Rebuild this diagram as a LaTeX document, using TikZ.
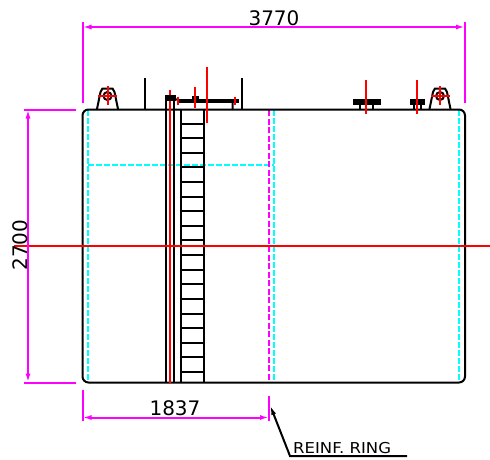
\documentclass[tikz,border=0pt]{standalone}
\usepackage{fontspec}
\setmainfont{DejaVu Sans}
\usetikzlibrary{arrows.meta}
\definecolor{cadred}{RGB}{255,0,0}
\definecolor{cadcyan}{RGB}{0,255,255}
\definecolor{cadmag}{RGB}{255,0,255}
\tikzset{
 x=1pt,y=-1pt,
 tank/.style={draw=black,line width=2pt},
 partline/.style={draw=black,line width=2pt},
 solidpart/.style={fill=black,draw=black,line width=.5pt},
 centre/.style={draw=cadred,line width=2pt},
 hidden/.style={draw=cadcyan,line width=2pt,dash pattern=on 6pt off 2pt},
 ring/.style={draw=cadmag,line width=2pt,dash pattern=on 6pt off 2.5pt},
 dim/.style={draw=cadmag,line width=2pt},
 dimarrow/.style={dim,{Latex[length=9pt,width=5pt]}-{Latex[length=9pt,width=5pt]}},
 dimtext/.style={text=black,font=\fontsize{20}{20}\selectfont,inner sep=0pt},
}
\begin{document}
\begin{tikzpicture}
\useasboundingbox (0,0) rectangle (490,459);
% hidden
\path[hidden] (88,110)--(88,382);
\path[hidden] (459,110)--(459,382);
\path[hidden] (274,110)--(274,382);
\path[hidden] (88,165)--(274,165);
\path[ring] (269,110)--(269,382);
% tank
\path[tank,rounded corners=6pt] (82.5,109.5) rectangle (465,382.5);
% ladder
\path[partline] (181,109)--(181,382.5) (203.5,109)--(203.5,382.5);
\foreach \n in {0,...,17}
  \path[partline] (181,123.5+14.62*\n)--(203.5,123.5+14.62*\n);
% pipe
\path[partline] (166,100)--(166,382.5) (174,100)--(174,382.5);
\path[centre] (170,90)--(170,382.5);
\path[solidpart] (165,95)rectangle(175.5,100.5);
% platform
\path[tank] (145,78)--(145,109.5) (241.5,78)--(241.5,109.5);
\path[solidpart] (178,99)rectangle(238,102.5);
\path[solidpart] (192,96)rectangle(198,100);
\path[partline] (232.5,102)--(232.5,109.5) (175,99)--(181,101);
\path[centre] (195,87)--(195,108) (178,97)--(178,105) (235,97)--(235,105);
\path[centre] (207,67)--(207,123);
% nozzles
\path[solidpart] (353,99)rectangle(380,104);
\path[partline] (360,104)--(360,109.5) (373,104)--(373,109.5);
\path[centre] (366,80)--(366,114);
\path[solidpart] (410,99)rectangle(424,104);
\path[partline] (414,104)--(414,109.5) (421,104)--(421,109.5);
\path[centre] (417,80)--(417,114);
% lugs
\foreach \c in {107.5,440}{
 \begin{scope}[shift={(\c,0)}]
 \path[partline] (-10.5,109)--(-7,92)--(-5,88.5)--(5,88.5)--(7,92)--(10.5,109);
 \path[partline] (0,96) circle (4pt);
 \path[centre] (-9.5,95.7)--(9.5,95.7) (0,86)--(0,105);
 \end{scope}}
% centreline
\path[centre] (14,245.5)--(490,245.5);
% dimensions
\path[dim] (82.5,22)--(82.5,103) (465,22)--(465,103);
\path[dimarrow] (82.5,27)--(465,27);
\node[dimtext] (w) at (274,18) {3770};
\path[dim] (24,109.5)--(76,109.5) (24,382.5)--(76,382.5);
\path[dimarrow] (28,109.5)--(28,382.5);
\node[dimtext,rotate=90] (h) at (20,245) {2700};
\path[dim] (82.5,390)--(82.5,421) (269,396)--(269,421);
\path[dimarrow] (82.5,417.5)--(269,417.5);
\node[dimtext] (d) at (175,408) {1837};
% leader
\coordinate (tip) at (270,405);
\coordinate (knee) at (290,456);
\coordinate (end) at (407,456);
\draw[black,line width=2pt,{Latex[length=10pt,width=5pt]}-] (tip)--(knee)--(end);
\node[text=black,font=\fontsize{15}{15}\selectfont,inner sep=0pt,anchor=base west] (r) at (293,453) {\scalebox{1.1}[1]{REINF. RING}};
\end{tikzpicture}
\end{document}
